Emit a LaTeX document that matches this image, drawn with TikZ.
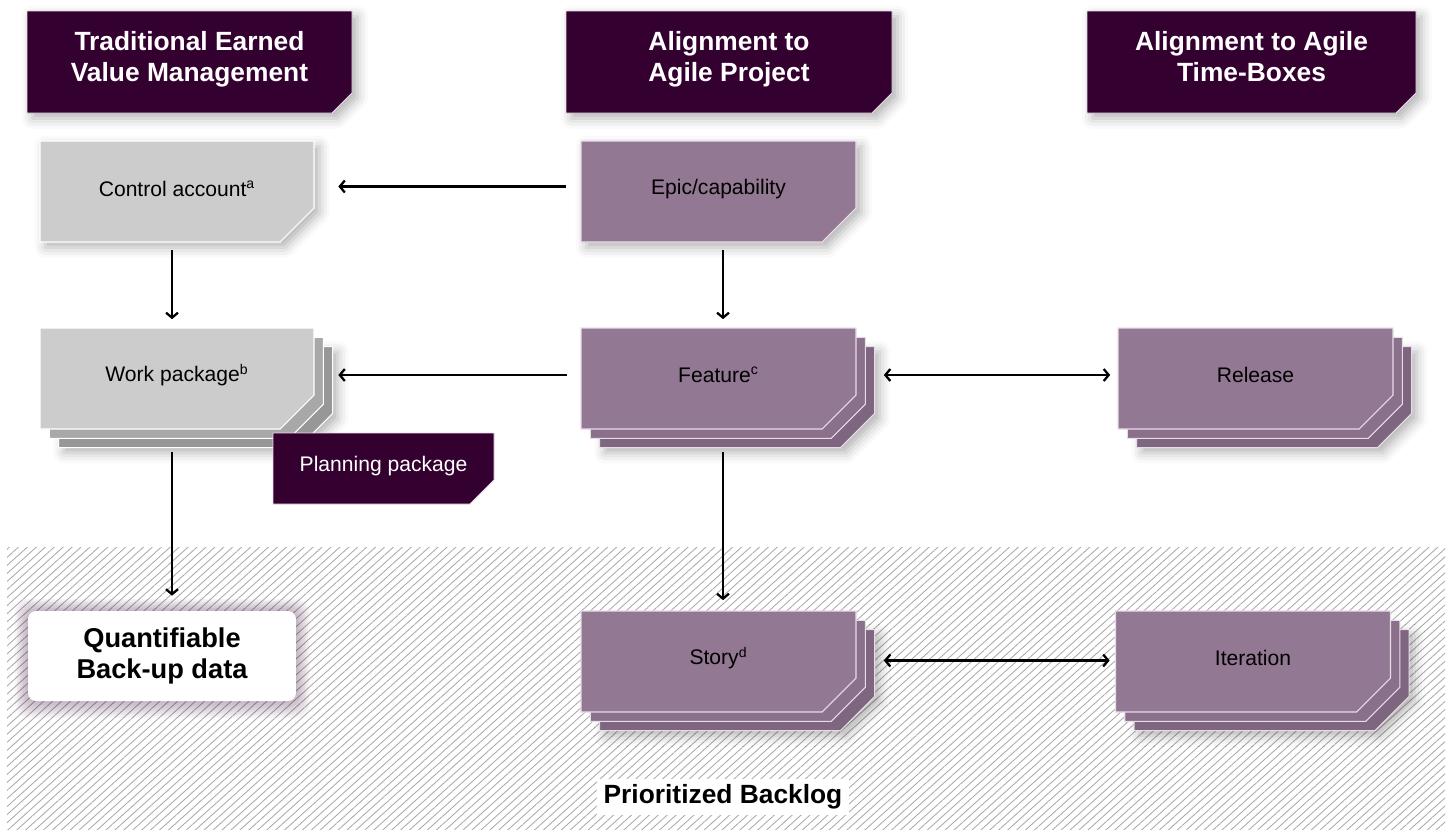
\documentclass[tikz,border=0pt]{standalone}
\usepackage{fontspec}
\setmainfont{Liberation Sans}
\usetikzlibrary{shadows.blur,patterns.meta,arrows.meta}

\definecolor{headdark}{HTML}{33002F}
\definecolor{boxedge}{HTML}{E9DCE9}
\definecolor{evmA}{HTML}{CCCCCC}
\definecolor{evmB}{HTML}{A8A8A8}
\definecolor{evmC}{HTML}{979797}
\definecolor{agileA}{HTML}{927892}
\definecolor{agileB}{HTML}{8A708B}
\definecolor{agileC}{HTML}{7E6580}
\definecolor{hatchgrey}{HTML}{ABABAB}

\tikzset{
	% centre x, centre y, half width, half height, cut
	cut shape/.style n args={5}{insert path={(#1-#3,#2-#4) -- (#1+#3,#2-#4) -- (#1+#3,#2+#4-#5)
			-- (#1+#3-#5,#2+#4) -- (#1-#3,#2+#4) -- cycle}},
	soft shadow/.style={blur shadow={shadow xshift=3pt,shadow yshift=-3pt,shadow blur radius=6pt,shadow opacity=30}},
	evm layer/.style={draw=white,line width=0.6pt},
	agile layer/.style={draw=boxedge,line width=0.6pt},
	head layer/.style={fill=headdark,draw=boxedge,line width=0.5pt},
	head label/.style={text=white,font=\fontsize{15}{17.5}\selectfont\bfseries,align=center,
		minimum width=6.5cm,minimum height=2.04cm,inner sep=0pt,execute at end node=\strut},
	item label/.style={font=\fontsize{12}{14}\selectfont,minimum width=5.48cm,minimum height=2.02cm,inner sep=0pt}
}

\begin{document}
\begin{tikzpicture}[x=0.02cm,y=-0.02cm,>={Straight Barb[length=1mm,width=2.4mm]},
		link/.style={->,line width=1.3pt}]
		\useasboundingbox (0,0) rectangle (1453,829);

		% backlog area
		\fill[pattern={Lines[angle=42,distance=3.4pt,line width=0.5pt]},pattern color=hatchgrey] (7,547) rectangle (1445,829);

		% column headers
		\filldraw[head layer,soft shadow,cut shape={189.5}{62}{162.5}{51}{20}];
		\node[head label] (hevm) at (189.5,61) {Traditional Earned\\Value Management};
		\filldraw[head layer,soft shadow,cut shape={729}{62}{163}{51}{20}];
		\node[head label] (hproj) at (729,61) {Alignment to\\Agile Project};
		\filldraw[head layer,soft shadow,cut shape={1251.5}{62}{164.5}{51}{20}];
		\node[head label] (hbox) at (1251.5,61) {Alignment to Agile\\Time-Boxes};

		% single boxes
		\filldraw[evm layer,fill=evmA,soft shadow,cut shape={177}{191.5}{137}{50.5}{34}];
		\node[item label] (ctrl) at (177,189) {Control account\textsuperscript{a}};
		\filldraw[agile layer,fill=agileA,soft shadow,cut shape={718.5}{191.5}{137.5}{50.5}{34}];
		\node[item label] (epic) at (718.5,189) {Epic/capability};

		% stacked boxes
		\filldraw[evm layer,fill=evmC,soft shadow,cut shape={195.6}{397.1}{137}{50.5}{34}];
		\filldraw[evm layer,fill=evmB,cut shape={186.3}{387.8}{137}{50.5}{34}];
		\filldraw[evm layer,fill=evmA,cut shape={177}{378.5}{137}{50.5}{34}];
		\foreach \cx/\cy in {718.5/378.5, 1255.5/378.5, 718.5/661.5, 1253/661.5}{
			\filldraw[agile layer,fill=agileC,soft shadow,cut shape={\cx+18.6}{\cy+18.6}{137.5}{50.5}{34}];
			\filldraw[agile layer,fill=agileB,cut shape={\cx+9.3}{\cy+9.3}{137.5}{50.5}{34}];
			\filldraw[agile layer,fill=agileA,cut shape={\cx}{\cy}{137.5}{50.5}{34}];
		}
		\node[item label] (work) at (177,375) {Work package\textsuperscript{b}};
		\node[item label] (feat) at (718.5,375) {Feature\textsuperscript{c}};
		\node[item label] (rel) at (1255.5,375) {Release};
		\node[item label] (story) at (718.5,658) {Story\textsuperscript{d}};
		\node[item label] (iter) at (1253,658) {Iteration};

		\filldraw[head layer,cut shape={383.5}{468.5}{110.5}{35.5}{24}];
		\node[text=white,font=\fontsize{12}{14}\selectfont,minimum width=4.42cm,minimum height=1.42cm,inner sep=0pt] (plan) at (383.5,466) {Planning package};

		% backing data
		\foreach \g in {1,...,8}
		\fill[headdark,opacity=0.04,rounded corners=0.25cm] (28-1.6*\g,611-1.5*\g) rectangle (296+1.7*\g,701+2.1*\g);
		\node[fill=white,rounded corners=0.16cm,minimum width=5.36cm,minimum height=1.8cm,align=center,
			font=\fontsize{15.5}{18}\selectfont\bfseries] (quant) at (162,656) {Quantifiable\\Back-up data};

		\node[fill=white,inner xsep=0.13cm,minimum height=0.7cm,font=\fontsize{15}{17}\selectfont\bfseries] (backlog) at (723,797) {Prioritized Backlog};

		% connectors
		\draw[link,shorten <=0.3cm,shorten >=0.48cm] ([yshift=0.05cm]epic.west) -- ([yshift=0.05cm]ctrl.east);
		\draw[link,shorten <=0.2cm,shorten >=0.1cm] ([xshift=-0.1cm]ctrl.south) -- ([xshift=-0.1cm]work.north);
		\draw[link,shorten <=0.28cm,shorten >=0.48cm] (feat.west) -- (work.east);
		\draw[link,shorten <=0.2cm,shorten >=0.1cm] ([xshift=0.09cm]epic.south) -- ([xshift=0.09cm]feat.north);
		\draw[link,<->,shorten <=0.56cm,shorten >=0.16cm] (feat.east) -- (rel.west);
		\coordinate (wpout) at ([xshift=-0.1cm]work.south);
		\draw[link,shorten <=0.52cm,shorten >=0.3cm] (wpout) -- (wpout |- quant.north);
		\draw[link,shorten <=0.52cm,shorten >=0.14cm] ([xshift=0.09cm]feat.south) -- ([xshift=0.09cm]story.north);
		\draw[link,<->,shorten <=0.56cm,shorten >=0.12cm] ([yshift=-0.05cm]story.east) -- ([yshift=-0.05cm]iter.west);
\end{tikzpicture}
\end{document}
